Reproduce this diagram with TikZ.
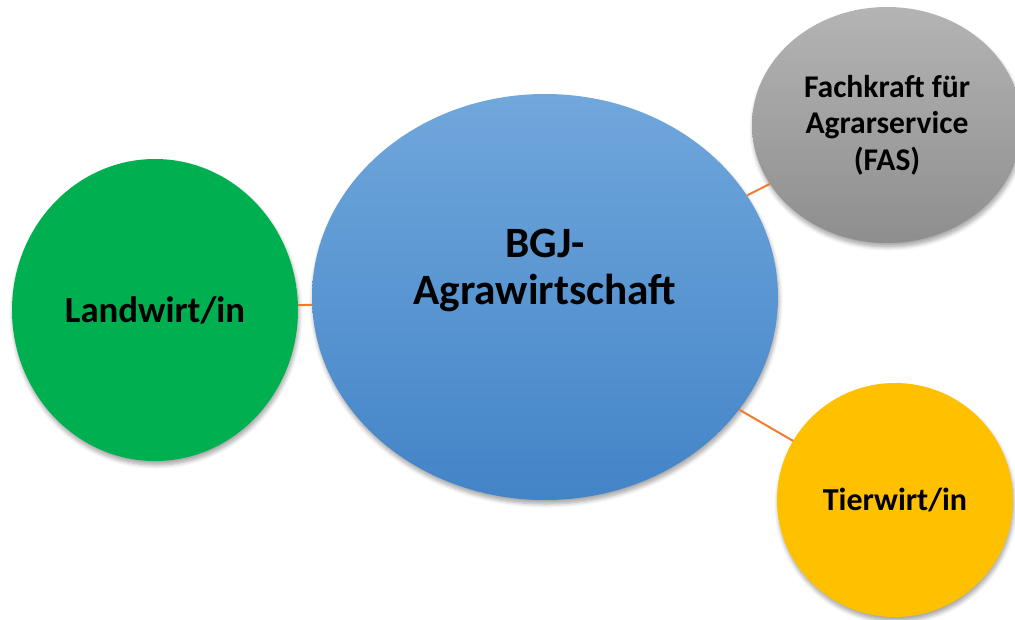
\documentclass[tikz,border=0pt]{standalone}
\usepackage{fontspec}
\setmainfont{Carlito}
\usetikzlibrary{shapes.geometric,shadows.blur}
\definecolor{grn}{HTML}{00B050}
\definecolor{bluetop}{HTML}{70A7DC}
\definecolor{bluebot}{HTML}{4384C7}
\definecolor{graytop}{HTML}{B4B4B4}
\definecolor{graybot}{HTML}{8E8E8E}
\definecolor{yel}{HTML}{FFC000}
\definecolor{orng}{HTML}{ED7D31}
\tikzset{every node/.style={ellipse,inner sep=0pt,outer sep=0pt,align=center,font=\bfseries}}
\tikzset{sh/.style={blur shadow={shadow xshift=1pt,shadow yshift=-4pt,shadow blur radius=4pt,shadow blur steps=6,shadow opacity=35}}}
\tikzset{link/.style={draw=orng,line width=2pt}}

\begin{document}
\begin{tikzpicture}[x=1pt,y=-1pt]
      \useasboundingbox (0,0) rectangle (1015,620);
      \node[sh,fill=grn,minimum width=286pt,minimum height=302pt,
            font=\bfseries\fontsize{36.8}{43}\selectfont] (L) at (155,310) {Landwirt/in};
      \node[sh,top color=bluetop,bottom color=bluebot,minimum width=466pt,minimum height=406pt,
            label={[name=Btext,yshift=27pt,font=\bfseries\fontsize{43.3}{47}\selectfont]center:BGJ-\\Agrawirtschaft}] (B) at (545,297) {};
      \node[sh,top color=graytop,bottom color=graybot,minimum width=270pt,minimum height=236pt,
            font=\bfseries\fontsize{31.6}{36.5}\selectfont] (F) at (887,125) {Fachkraft für\\Agrarservice\\(FAS)};
      \node[sh,fill=yel,minimum width=236pt,minimum height=234pt,
            font=\bfseries\fontsize{32}{37}\selectfont] (T) at (895,500) {Tierwirt/in};
      \foreach \a/\b in {B/L,B/F,B/T}
        \draw[link] (\a) -- (\b);
\end{tikzpicture}
\end{document}
